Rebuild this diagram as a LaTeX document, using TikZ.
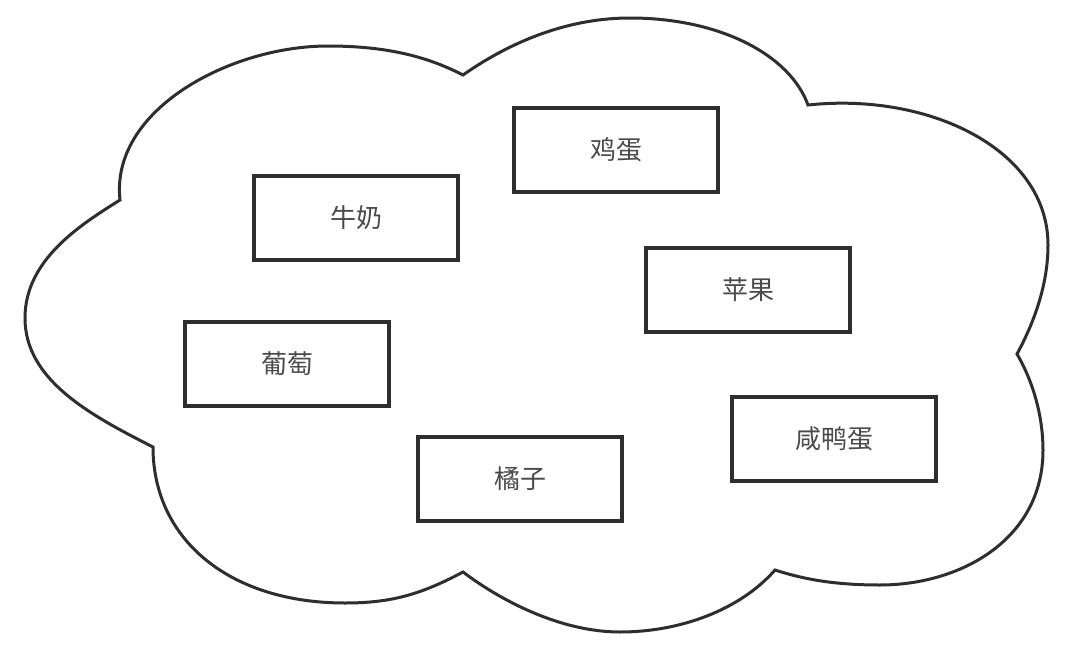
\documentclass[tikz,border=0pt]{standalone}
\usepackage{fontspec}
\newfontfamily\cjk{Noto Sans CJK SC}
\definecolor{lineC}{HTML}{2E2E2E}
\definecolor{textC}{HTML}{4A4A4A}
\begin{document}
\begin{tikzpicture}[x=1pt,y=-1pt,
  item/.style={draw=lineC,line width=3.4pt,minimum width=204pt,minimum height=84pt,
    inner sep=0pt,font=\cjk\fontsize{26}{26}\selectfont,text=textC},
  cloudline/.style={draw=lineC,line width=3pt,line join=miter}]
\useasboundingbox[fill=white] (0,0) rectangle (1082,645);
% cloud
\draw[cloudline] (463,75)
  .. controls (513,40) and (570,18) .. (630,18)
  .. controls (720,18) and (790,55) .. (808,105)
  .. controls (930,92) and (1048,150) .. (1048,245)
  .. controls (1048,290) and (1030,330) .. (1017,354)
  .. controls (1035,385) and (1043,420) .. (1043,450)
  .. controls (1043,540) and (960,585) .. (880,585)
  .. controls (830,585) and (800,578) .. (775,570)
  .. controls (740,610) and (680,632) .. (620,632)
  .. controls (560,632) and (500,600) .. (463,572)
  .. controls (420,595) and (390,603) .. (345,603)
  .. controls (230,603) and (153,540) .. (153,447)
  .. controls (90,415) and (25,380) .. (25,318)
  .. controls (25,260) and (80,225) .. (120,200)
  .. controls (110,110) and (230,46) .. (328,46)
  .. controls (390,46) and (430,58) .. (463,75) -- cycle;
% boxes
\node[item] (egg)    at (616,150) {鸡蛋};
\node[item] (milk)   at (356,218) {牛奶};
\node[item] (apple)  at (748,290) {苹果};
\node[item] (grape)  at (287,364) {葡萄};
\node[item] (duck)   at (834,439) {咸鸭蛋};
\node[item] (orange) at (520,479) {橘子};
\end{tikzpicture}
\end{document}
